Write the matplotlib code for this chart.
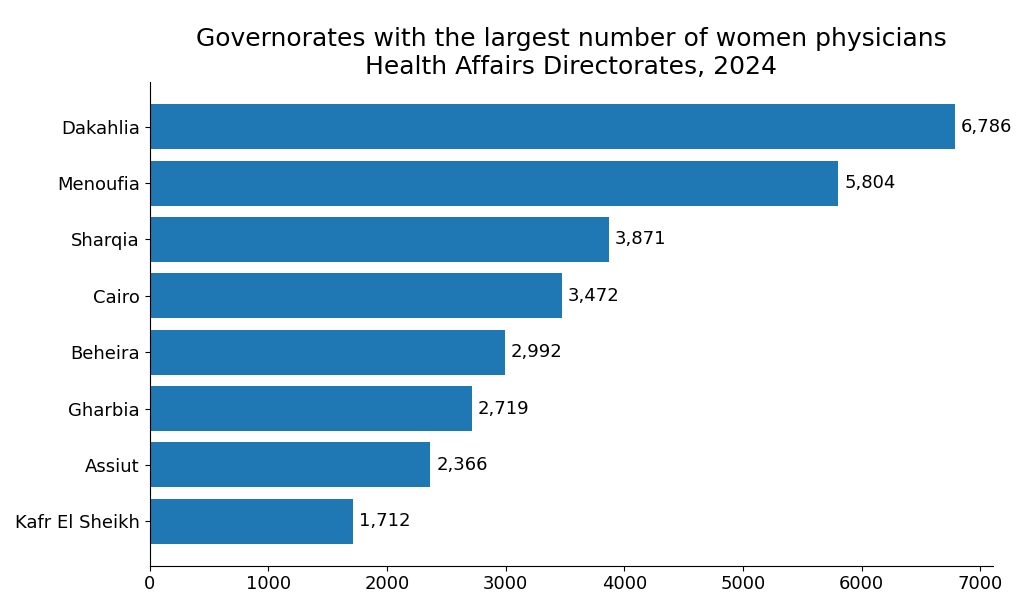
import matplotlib.pyplot as plt

#%%

governorates = ['Dakahlia', 'Menoufia', 'Sharqia', 'Cairo',
                'Beheira', 'Gharbia', 'Assiut', 'Kafr El Sheikh']
women_physicians = [6786, 5804, 3871, 3472, 2992, 2719, 2366, 1712]

#%%

plt.barh(governorates[::-1], women_physicians[::-1], color='#1f77b4')

for i, v in enumerate(women_physicians[::-1]):
    plt.text(v + 50, i, f'{v:,}', va='center', fontsize=13)

plt.title('Governorates with the largest number of women physicians\n'
          'Health Affairs Directorates, 2024', fontsize=18)
plt.xticks(fontsize=13)
plt.yticks(fontsize=13)
plt.xlim(0, 7110)
ax = plt.gca()
ax.spines['top'].set_visible(False)
ax.spines['right'].set_visible(False)
fig = plt.gcf()
fig.set_size_inches(10.24, 6.09)
plt.subplots_adjust(left=0.146, right=0.97, top=0.865, bottom=0.071)
plt.savefig('out.png', dpi=100)
plt.close()
